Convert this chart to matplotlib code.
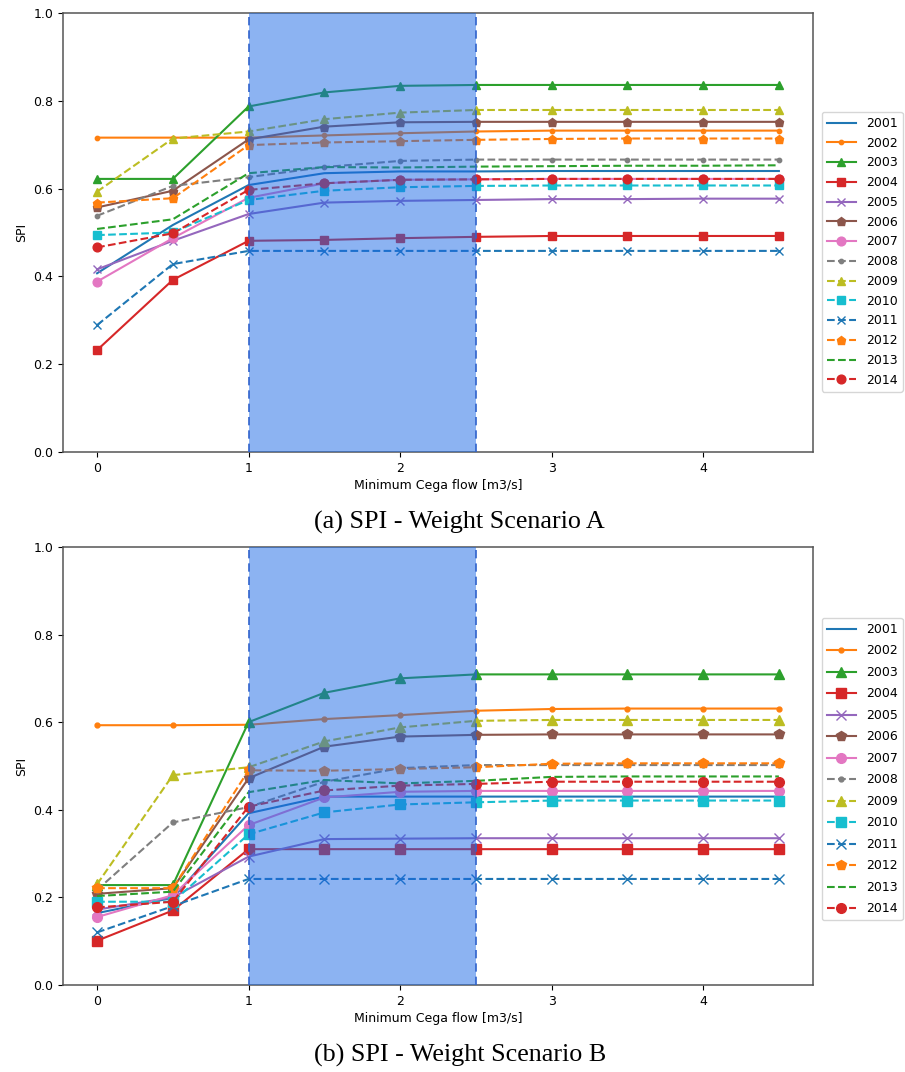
import matplotlib
matplotlib.use("Agg")
import matplotlib.pyplot as plt

flow = [0, 0.5, 1, 1.5, 2, 2.5, 3, 3.5, 4, 4.5]
years = ["2001", "2002", "2003", "2004", "2005", "2006", "2007",
         "2008", "2009", "2010", "2011", "2012", "2013", "2014"]

# SPI per year, weight scenario A
spi_a_2001 = [0.407, 0.517, 0.608, 0.635, 0.639, 0.639, 0.640, 0.640, 0.640, 0.640]
spi_a_2002 = [0.716, 0.716, 0.716, 0.721, 0.726, 0.730, 0.732, 0.732, 0.732, 0.732]
spi_a_2003 = [0.622, 0.622, 0.787, 0.819, 0.834, 0.836, 0.836, 0.836, 0.836, 0.836]
spi_a_2004 = [0.232, 0.392, 0.481, 0.483, 0.487, 0.490, 0.492, 0.492, 0.492, 0.492]
spi_a_2005 = [0.416, 0.481, 0.542, 0.568, 0.572, 0.574, 0.576, 0.576, 0.577, 0.577]
spi_a_2006 = [0.557, 0.595, 0.712, 0.741, 0.751, 0.752, 0.752, 0.752, 0.752, 0.752]
spi_a_2007 = [0.388, 0.487, 0.579, 0.612, 0.620, 0.621, 0.622, 0.622, 0.622, 0.622]
spi_a_2008 = [0.538, 0.606, 0.626, 0.649, 0.663, 0.666, 0.666, 0.666, 0.666, 0.666]
spi_a_2009 = [0.593, 0.714, 0.730, 0.758, 0.773, 0.779, 0.779, 0.779, 0.779, 0.779]
spi_a_2010 = [0.494, 0.500, 0.574, 0.595, 0.603, 0.606, 0.607, 0.607, 0.607, 0.607]
spi_a_2011 = [0.289, 0.428, 0.458, 0.458, 0.458, 0.458, 0.458, 0.458, 0.458, 0.458]
spi_a_2012 = [0.568, 0.578, 0.699, 0.705, 0.708, 0.711, 0.713, 0.714, 0.714, 0.714]
spi_a_2013 = [0.508, 0.530, 0.635, 0.649, 0.648, 0.650, 0.651, 0.652, 0.652, 0.653]
spi_a_2014 = [0.466, 0.498, 0.597, 0.612, 0.620, 0.621, 0.622, 0.622, 0.622, 0.622]

# SPI per year, weight scenario B
spi_b_2001 = [0.164, 0.199, 0.392, 0.430, 0.430, 0.430, 0.430, 0.430, 0.430, 0.430]
spi_b_2002 = [0.593, 0.593, 0.594, 0.607, 0.616, 0.626, 0.630, 0.631, 0.631, 0.631]
spi_b_2003 = [0.228, 0.228, 0.600, 0.667, 0.700, 0.709, 0.709, 0.709, 0.709, 0.709]
spi_b_2004 = [0.101, 0.170, 0.310, 0.310, 0.310, 0.310, 0.310, 0.310, 0.310, 0.310]
spi_b_2005 = [0.172, 0.200, 0.293, 0.333, 0.334, 0.335, 0.335, 0.335, 0.335, 0.335]
spi_b_2006 = [0.208, 0.221, 0.472, 0.544, 0.567, 0.571, 0.572, 0.572, 0.572, 0.572]
spi_b_2007 = [0.155, 0.205, 0.365, 0.428, 0.441, 0.443, 0.443, 0.443, 0.443, 0.443]
spi_b_2008 = [0.217, 0.371, 0.406, 0.464, 0.495, 0.502, 0.502, 0.502, 0.502, 0.502]
spi_b_2009 = [0.230, 0.479, 0.497, 0.556, 0.588, 0.603, 0.605, 0.605, 0.605, 0.605]
spi_b_2010 = [0.190, 0.190, 0.344, 0.394, 0.412, 0.417, 0.421, 0.421, 0.421, 0.421]
spi_b_2011 = [0.120, 0.180, 0.242, 0.242, 0.242, 0.242, 0.242, 0.242, 0.242, 0.242]
spi_b_2012 = [0.221, 0.221, 0.490, 0.489, 0.493, 0.497, 0.505, 0.506, 0.506, 0.506]
spi_b_2013 = [0.203, 0.213, 0.440, 0.468, 0.460, 0.466, 0.475, 0.476, 0.476, 0.476]
spi_b_2014 = [0.177, 0.190, 0.407, 0.444, 0.455, 0.459, 0.464, 0.464, 0.464, 0.464]

spi_a = [spi_a_2001, spi_a_2002, spi_a_2003, spi_a_2004, spi_a_2005, spi_a_2006, spi_a_2007,
         spi_a_2008, spi_a_2009, spi_a_2010, spi_a_2011, spi_a_2012, spi_a_2013, spi_a_2014]
spi_b = [spi_b_2001, spi_b_2002, spi_b_2003, spi_b_2004, spi_b_2005, spi_b_2006, spi_b_2007,
         spi_b_2008, spi_b_2009, spi_b_2010, spi_b_2011, spi_b_2012, spi_b_2013, spi_b_2014]

markers = ["", ".", "^", "s", "x", "p", "o", ".", "^", "s", "x", "p", "", "o"]
styles = ["-"] * 7 + ["--"] * 7
palette = plt.rcParams["axes.prop_cycle"].by_key()["color"]

plt.rcParams["font.size"] = 9

fig = plt.figure(figsize=(9.05, 10.72), dpi=100)
ax_a = fig.add_axes([0.0696, 0.5784, 0.8287, 0.4095])
ax_b = fig.add_axes([0.0696, 0.0812, 0.8287, 0.4086])


def draw_panel(ax, series, legend_top, msize, spacing):
    for i, (year, vals) in enumerate(zip(years, series)):
        ax.plot(flow, vals, linestyle=styles[i], marker=markers[i],
                color=palette[i % 10], label=year, markersize=msize)
    # highlighted flow range, laid over the curves
    ax.axvspan(1, 2.5, facecolor=(0.10, 0.41, 0.90), alpha=0.5, lw=0, zorder=3)
    for xv in (1, 2.5):
        ax.axvline(xv, color="#2f62cc", lw=1.2, ls=(0, (5, 3)), zorder=4)
    ax.set_ylim(0, 1.0)
    ax.set_xlabel("Minimum Cega flow [m3/s]", labelpad=3)
    ax.set_ylabel("SPI")
    for sp in ax.spines.values():
        sp.set_color("#555555")
        sp.set_linewidth(1.1)
    ax.legend(loc="upper left", bbox_to_anchor=(1.012, legend_top),
              borderaxespad=0, fontsize=9, handlelength=2.3,
              labelspacing=spacing)


draw_panel(ax_a, spi_a, 0.7745, 6.3, 0.54)
draw_panel(ax_b, spi_b, 0.838, 7.0, 0.68)

fig.text(0.508, 1 - 522 / 1072, "(a) SPI - Weight Scenario A",
         ha="center", va="center", fontsize=18.8, family="Liberation Serif")
fig.text(0.508, 1 - 1055 / 1072, "(b) SPI - Weight Scenario B",
         ha="center", va="center", fontsize=18.8, family="Liberation Serif")

fig.savefig("out.png", dpi=100)
